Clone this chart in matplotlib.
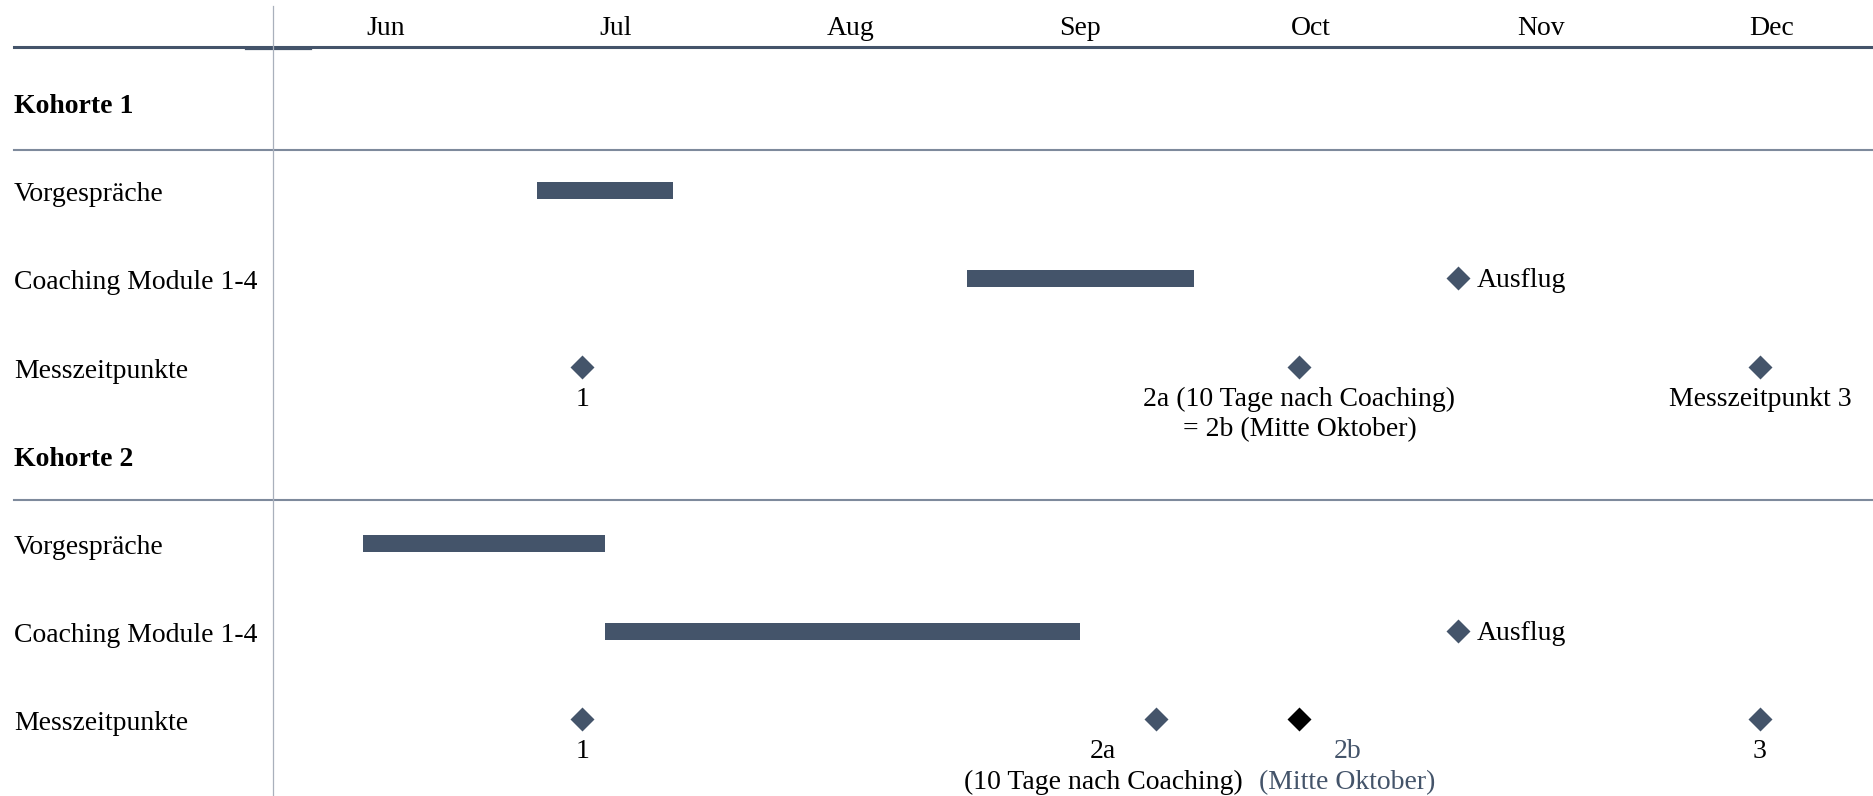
import matplotlib
matplotlib.use("Agg")
import matplotlib.pyplot as plt
import matplotlib.dates as mdates
from matplotlib.lines import Line2D
from matplotlib import transforms
from datetime import date

# ---- data ---------------------------------------------------------------
YEAR = 2023
months = ["Jun", "Jul", "Aug", "Sep", "Oct", "Nov", "Dec"]
month_numbers = [6, 7, 8, 9, 10, 11, 12]

row_labels = ["Kohorte 1", "Vorgespräche", "Coaching Module 1-4", "Messzeitpunkte",
              "Kohorte 2", "Vorgespräche", "Coaching Module 1-4", "Messzeitpunkte"]
row_bold = [True, False, False, False, True, False, False, False]

# phases (row index, start, end)
bar_rows = [1, 2, 5, 6]
bar_starts = ["07-06", "09-01", "06-13", "07-15"]
bar_ends = ["07-24", "10-01", "07-15", "09-16"]

# excursion markers
trip_rows = [2, 6]
trip_dates = ["11-05", "11-05"]
trip_label = "Ausflug"

# measurement points, cohort 1
k1_points = ["07-12", "10-15", "12-15"]
k1_labels = ["1", "2a (10 Tage nach Coaching)\n= 2b (Mitte Oktober)", "Messzeitpunkt 3"]

# measurement points, cohort 2
k2_points = ["07-12", "09-26", "10-15", "12-15"]
k2_labels = ["1", "2a\n(10 Tage nach Coaching)", "2b\n(Mitte Oktober)", "3"]
k2_marker_colors = ["#44546A", "#44546A", "#000000", "#44546A"]
k2_text_colors = ["#000000", "#000000", "#44546A", "#000000"]
k2_text_dx = [0, -53, 48, 0]   # pixel shift of the captions

# ---- helpers ------------------------------------------------------------
def d(md):
    m, dd = md.split("-")
    return mdates.date2num(date(YEAR, int(m), int(dd)))

SLATE = "#44546A"
W, H = 1874, 796
DPI = 100
FS = 20
PT = 72 / DPI  # points per pixel

plt.rcParams["font.family"] = ["Liberation Serif", "DejaVu Serif"]

fig = plt.figure(figsize=(W / DPI, H / DPI), dpi=DPI)
x0 = 272.5 / W
top = 1 - 47 / H
ax = fig.add_axes([x0, 0, 1 - x0, top])

start = date(YEAR, 6, 1)
ax.set_xlim(mdates.date2num(start), mdates.date2num(start) + 212.1)
ax.set_ylim(7.868, -0.624)
for s in ax.spines.values():
    s.set_visible(False)
ax.set_yticks([])

# month labels centred in each month
centers = []
for mn in month_numbers:
    a = date(YEAR, mn, 1)
    b = date(YEAR + (mn == 12), (mn % 12) + 1, 1)
    centers.append((mdates.date2num(a) + mdates.date2num(b)) / 2)
ax.xaxis.tick_top()
ax.set_xticks(centers)
ax.set_xticklabels(months, fontsize=FS)
ax.tick_params(axis="x", length=0, pad=4)

# row labels in the left column
lab_tr = transforms.blended_transform_factory(fig.transFigure, ax.transData)
lab_tr_shift = lab_tr + transforms.ScaledTranslation(0, -4.5 / DPI, fig.dpi_scale_trans)
for i, (lab, b) in enumerate(zip(row_labels, row_bold)):
    fig.text(14 / W, i, lab, transform=lab_tr_shift, fontsize=FS, va="center", ha="left",
             fontweight="bold" if b else "normal")

# horizontal rules
fig.add_artist(Line2D([14 / W, 1], [top, top], color=SLATE, lw=2.2, transform=fig.transFigure))
fig.add_artist(Line2D([246 / W, 311 / W], [1 - 48.5 / H] * 2, color=SLATE, lw=1.6,
                      transform=fig.transFigure))
for yy in (0.545, 4.51):
    fig.add_artist(Line2D([14 / W, 1], [yy, yy], color="#7E8A9C", lw=1.5, transform=lab_tr))
# vertical divider
fig.add_artist(Line2D([x0, x0], [0, 1 - 6 / H], color="#A9B0BC", lw=0.9,
                      transform=fig.transFigure))

# phase bars
for r, s, e in zip(bar_rows, bar_starts, bar_ends):
    ax.barh(r, d(e) - d(s), left=d(s), height=0.193, color=SLATE, edgecolor="none")

MS = 12
# excursions
for r, t in zip(trip_rows, trip_dates):
    ax.plot(d(t), r, marker="D", ms=MS, color=SLATE, mec="none", ls="none")
    ax.annotate(trip_label, (d(t), r), xytext=(19 * PT, -2.5 * PT), textcoords="offset points",
                fontsize=FS, va="center", ha="left")

# measurement points
OFF = -20 * PT
LS = 1.28
for t, lab in zip(k1_points, k1_labels):
    ax.plot(d(t), 3, marker="D", ms=MS, color=SLATE, mec="none", ls="none")
    ax.annotate(lab, (d(t), 3), xytext=(0, OFF), textcoords="offset points",
                fontsize=FS, va="top", ha="center", multialignment="center", linespacing=LS)

for t, lab, mc, tc, dx in zip(k2_points, k2_labels, k2_marker_colors, k2_text_colors, k2_text_dx):
    ax.plot(d(t), 7, marker="D", ms=MS, color=mc, mec="none", ls="none")
    ax.annotate(lab, (d(t), 7), xytext=(dx * PT, OFF), textcoords="offset points",
                fontsize=FS, va="top", ha="center", multialignment="center",
                linespacing=LS, color=tc, annotation_clip=False)

fig.savefig("out.png", dpi=DPI, facecolor="white")
